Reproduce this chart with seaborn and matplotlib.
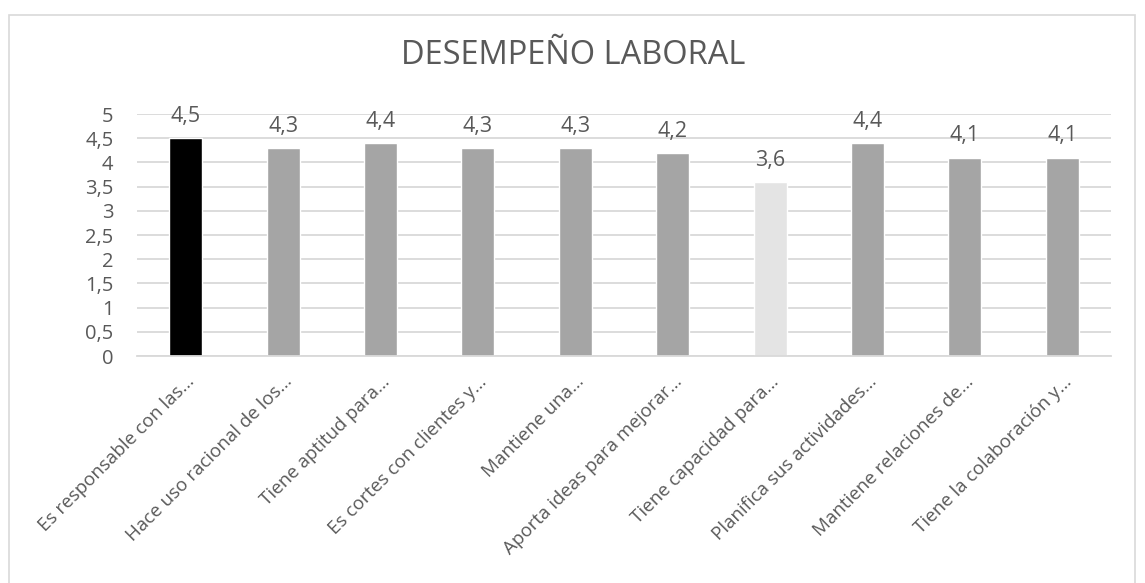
import matplotlib
matplotlib.use("Agg")
import matplotlib.pyplot as plt
import seaborn as sns
import pandas as pd
from matplotlib.patches import Rectangle

categories = [
    "Es responsable con las…",
    "Hace uso racional de los…",
    "Tiene aptitud para…",
    "Es cortes con clientes y…",
    "Mantiene una…",
    "Aporta ideas para mejorar…",
    "Tiene capacidad para…",
    "Planifica sus actividades…",
    "Mantiene relaciones de…",
    "Tiene la colaboración y…",
]
values = [4.5, 4.3, 4.4, 4.3, 4.3, 4.2, 3.6, 4.4, 4.1, 4.1]
bar_colors = ["#000000", "#a5a5a5", "#a5a5a5", "#a5a5a5", "#a5a5a5",
              "#a5a5a5", "#e4e4e4", "#a5a5a5", "#a5a5a5", "#a5a5a5"]
yticks = [0, 0.5, 1, 1.5, 2, 2.5, 3, 3.5, 4, 4.5, 5]
title = "DESEMPEÑO LABORAL"

sns.set_theme(style="white")
plt.rcParams["font.family"] = ["Open Sans", "DejaVu Sans"]
text_color = "#595959"

df = pd.DataFrame({"cat": categories, "val": values})

fig = plt.figure(figsize=(11.45, 5.83), dpi=100)
ax = fig.add_axes([137 / 1145, 1 - 356 / 583, (1111 - 137) / 1145, (356 - 114) / 583])

sns.barplot(data=df, x="cat", y="val", hue="cat", palette=bar_colors,
            legend=False, width=0.34, ax=ax, saturation=1)

ax.set_ylim(0, 5)
ax.set_xlim(-0.5, len(categories) - 0.5)
ax.set_yticks(yticks)
ax.set_yticklabels([f"{t:g}".replace(".", ",") for t in yticks],
                   fontsize=14.5, color=text_color)
ax.yaxis.grid(True, color="#d9d9d9", linewidth=1.3)
ax.set_axisbelow(True)
for s in ["top", "right", "left"]:
    ax.spines[s].set_visible(False)
ax.spines["bottom"].set_color("#d9d9d9")
ax.spines["bottom"].set_linewidth(1.3)
ax.tick_params(axis="both", length=0)
ax.tick_params(axis="x", pad=12)
ax.tick_params(axis="y", pad=17)
ax.set_xlabel("")
ax.set_ylabel("")
ax.set_xticks(range(len(categories)))
ax.set_xticklabels(categories, rotation=45, ha="right", rotation_mode="anchor",
                   fontsize=13.5, color=text_color)

for i, v in enumerate(values):
    ax.annotate(f"{v:.1f}".replace(".", ","), (i, v), xytext=(0, 8),
                textcoords="offset points", ha="center", va="bottom",
                fontsize=15.5, color=text_color)

fig.text(573 / 1145, 1 - 56 / 583, title, ha="center", va="center",
         fontsize=23.5, color=text_color)

fig.patches.append(Rectangle((9 / 1145, -0.01), (1135 - 9) / 1145, 1 - 15 / 583 + 0.01,
                             transform=fig.transFigure, fill=False,
                             edgecolor="#d9d9d9", linewidth=1.2))

fig.savefig("out.png", dpi=100, facecolor="white")
